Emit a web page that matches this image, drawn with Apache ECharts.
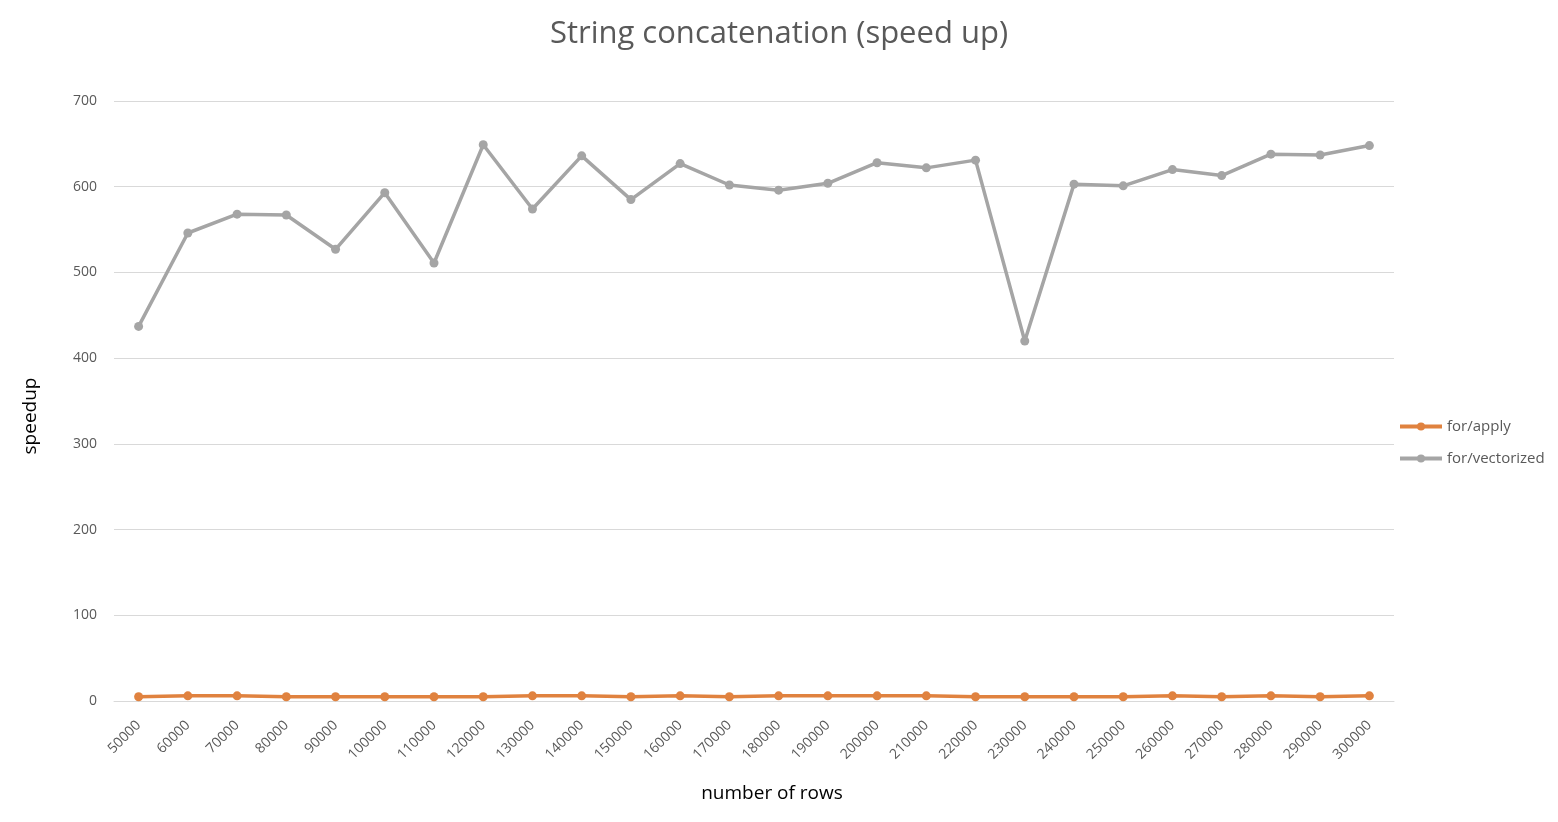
<!DOCTYPE html>
<html>
<head>
<meta charset="utf-8">
<script src="https://cdn.jsdelivr.net/npm/echarts@6/dist/echarts.min.js"></script>
<style>html,body{margin:0;padding:0;background:#fff}#c{width:1558px;height:822px}</style>
</head>
<body>
<div id="c"></div>
<script>
const categories = ['50000','60000','70000','80000','90000','100000','110000','120000','130000','140000','150000','160000','170000','180000','190000','200000','210000','220000','230000','240000','250000','260000','270000','280000','290000','300000'];
const forApply = [5,6,6,5,5,5,5,5,6,6,5,6,5,6,6,6,6,5,5,5,5,6,5,6,5,6];
const forVectorized = [437,546,568,567,527,593,511,649,574,636,585,627,602,596,604,628,622,631,420,603,601,620,613,638,637,648];
const yTicks = {min:0, max:700, interval:100};

const font = 'Open Sans, Noto Sans, sans-serif';
const chart = echarts.init(document.getElementById('c'));
chart.setOption({
  animation:false,
  backgroundColor:'#fff',
  title:{text:'String concatenation (speed up)',left:'center',top:14,
    textStyle:{fontFamily:font,fontSize:31,fontWeight:'normal',color:'#595959'}},
  grid:{left:114,right:164,top:101,bottom:121,containLabel:false},
  legend:{orient:'vertical',left:1393,top:414,itemGap:17,itemWidth:42,itemHeight:10,
    lineStyle:{width:4},
    textStyle:{fontFamily:font,fontSize:15,color:'#595959'},
    data:['for/apply','for/vectorized']},
  xAxis:{type:'category',data:categories,boundaryGap:true,
    name:'number of rows',nameLocation:'middle',nameGap:83,
    nameTextStyle:{fontFamily:font,fontSize:19,color:'#000',padding:[0,0,0,36]},
    axisLine:{lineStyle:{color:'#d9d9d9',width:1}},
    axisTick:{show:false},
    axisLabel:{rotate:45,fontFamily:font,fontSize:14,color:'#595959',margin:22,interval:0}},
  yAxis:{type:'value',min:yTicks.min,max:yTicks.max,interval:yTicks.interval,
    name:'speedup',nameLocation:'middle',nameGap:74,nameRotate:90,
    nameTextStyle:{fontFamily:font,fontSize:19,color:'#000',padding:[0,30,0,0]},
    axisLine:{show:false},axisTick:{show:false},
    axisLabel:{fontFamily:font,fontSize:14,color:'#595959',margin:17},
    splitLine:{lineStyle:{color:'#d9d9d9',width:1}}},
  series:[
    {name:'for/apply',type:'line',data:forApply,symbol:'circle',symbolSize:9,
      itemStyle:{color:'#E0823F'},lineStyle:{color:'#E0823F',width:3.5}},
    {name:'for/vectorized',type:'line',data:forVectorized,symbol:'circle',symbolSize:9,
      itemStyle:{color:'#A5A5A5'},lineStyle:{color:'#A5A5A5',width:3.5}}
  ]
});
</script>
</body>
</html>
